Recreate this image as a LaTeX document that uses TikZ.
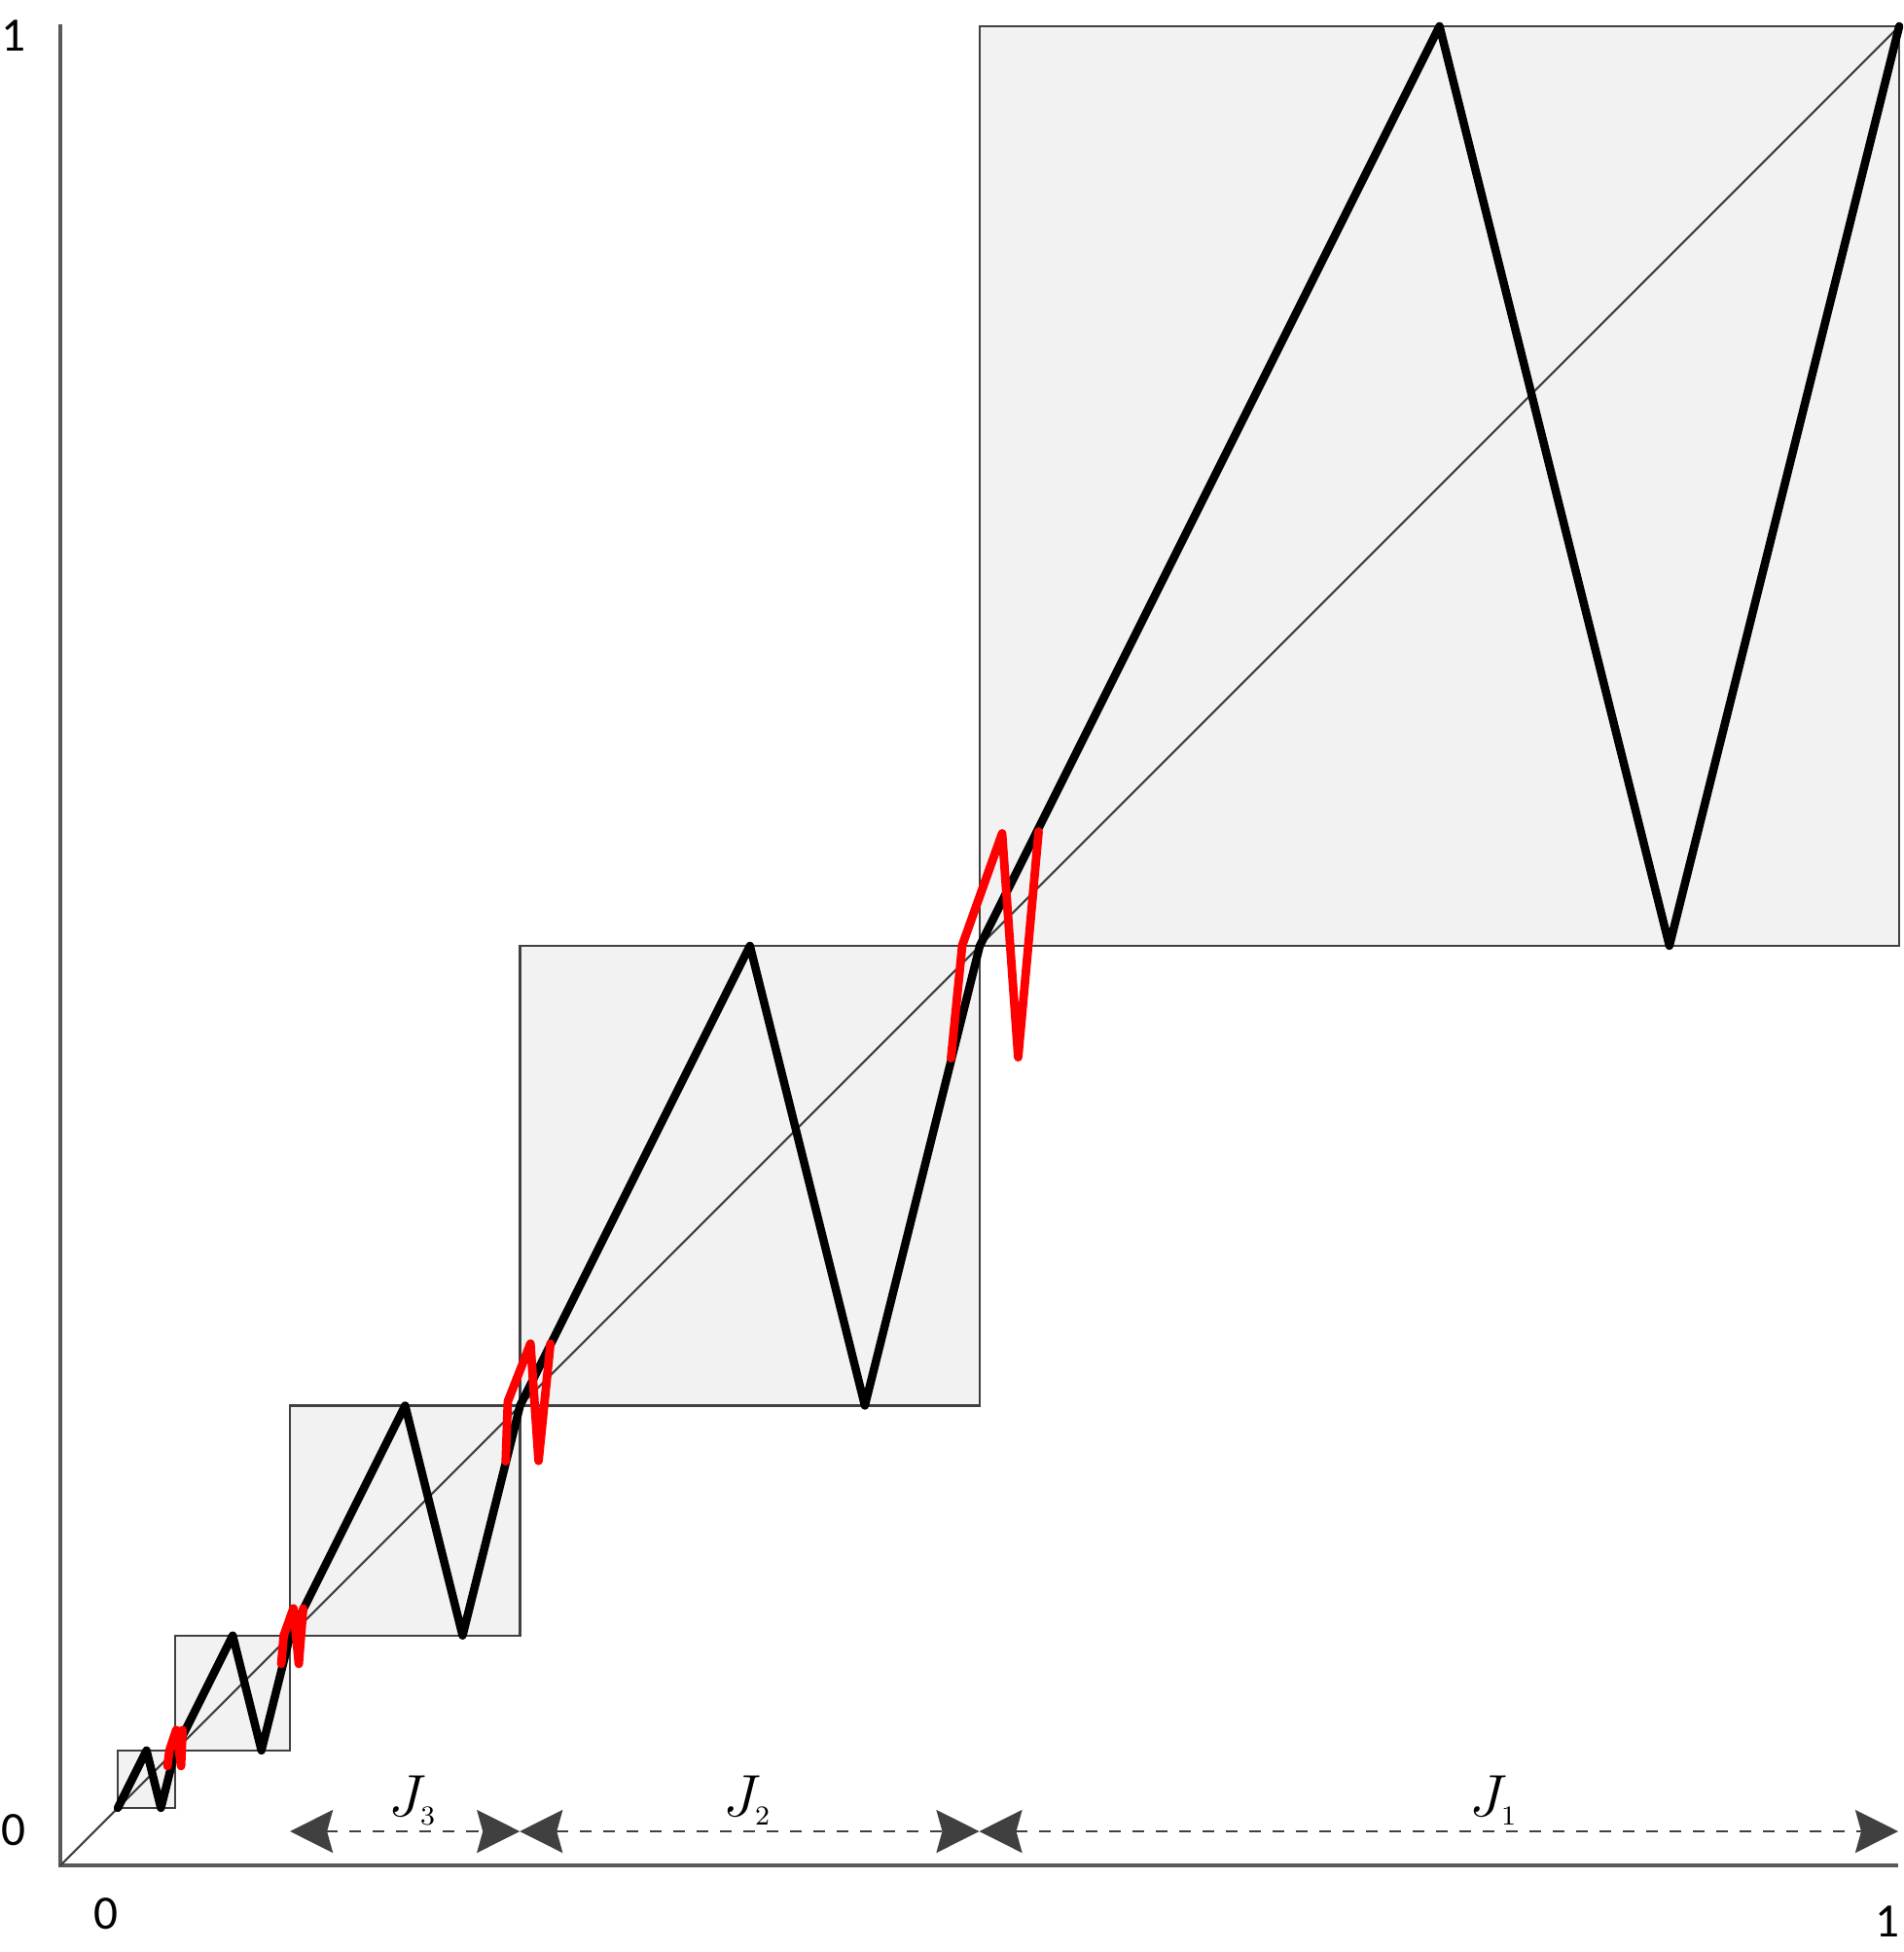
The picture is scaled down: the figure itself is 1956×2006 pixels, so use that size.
\documentclass[tikz,border=0pt]{standalone}
\usepackage{fontspec}
\setmainfont{Carlito}
\usetikzlibrary{arrows.meta}
\definecolor{boxfill}{HTML}{F2F2F2}
\definecolor{linegray}{HTML}{595959}
\definecolor{arrowgray}{HTML}{404040}
\tikzset{
  axisline/.style={draw=linegray, line width=0.9pt},
  boxsq/.style={fill=boxfill, draw=arrowgray, line width=0.6pt},
  diag/.style={draw=arrowgray, line width=0.6pt},
  mapline/.style={draw=black, line width=2.4pt, line join=round, line cap=round},
  redpert/.style={draw=red, line width=2.5pt, line join=round, line cap=round},
  ticklabel/.style={font=\fontsize{14pt}{16pt}\selectfont, inner sep=0pt},
  jlabel/.style={font=\fontsize{17pt}{20pt}\selectfont, inner sep=0pt},
  interval/.style={draw=arrowgray, line width=0.75pt, dash pattern=on 0.12cm off 0.12cm,
    {Stealth[length=0.44cm,width=0.44cm,inset=0.06cm]}-{Stealth[length=0.44cm,width=0.44cm,inset=0.06cm]}}
}
\begin{document}
\begin{tikzpicture}[x=0.01cm,y=-0.01cm]
\useasboundingbox (0,0) rectangle (1956,2006);
% coordinates of the frame
\coordinate (orig) at (62,1917);
\coordinate (ytop) at (62,25);
\coordinate (xend) at (1951,1917);
\coordinate (tr) at (1951,28);
% boxes J_k, in unit coordinates
\begin{scope}[shift={(62,1917)}, x=18.89cm, y=18.89cm]
  \path[boxsq] (1/32,1/32) rectangle (1/16,1/16);
  \path[boxsq] (1/16,1/16) rectangle (1/8,1/8);
  \path[boxsq] (1/8,1/8) rectangle (1/4,1/4);
  \path[boxsq] (1/4,1/4) rectangle (1/2,1/2);
  \path[boxsq] (1/2,1/2) rectangle (1,1);
\end{scope}
% axes and diagonal
\draw[axisline] (ytop) -- (orig) -- (xend);
\draw[diag] (orig) -- (tr);
% the map
\begin{scope}[shift={(62,1917)}, x=18.89cm, y=18.89cm]
  \draw[mapline] (0.03125,0.03125) -- (0.046875,0.0625) -- (0.0546875,0.03125) -- (0.0625,0.0625)
    -- (0.09375,0.125) -- (0.109375,0.0625) -- (0.125,0.125)
    -- (0.1875,0.25) -- (0.21875,0.125) -- (0.25,0.25)
    -- (0.375,0.5) -- (0.4375,0.25) -- (0.5,0.5)
    -- (0.75,1) -- (0.875,0.5) -- (1,1);
\end{scope}
% red perturbations near the corners
\draw[redpert, shift={(1006.5,972.5)}] (-29,115) -- (-17.5,-1) -- (23.5,-116) -- (40,114) -- (61,-118);
\draw[redpert, shift={(534.25,1444.75)}] (-14.5,57) -- (-12.3,-4.5) -- (11,-64) -- (19.3,56.5) -- (31.5,-64);
\draw[redpert, shift={(298.1,1680.9)}] (-9,29) -- (-6.5,0) -- (3.5,-28) -- (9,29) -- (13.5,-28);
\draw[redpert, shift={(180.1,1798.9)}] (-8,16) -- (-6,0) -- (1,-21) -- (6,16) -- (7.5,-21);
% tick labels
\node[ticklabel] (y1) at (14,37) {1};
\node[ticklabel] (y0) at (14,1881) {0};
\node[ticklabel] (x0) at (109,1967) {0};
\node[ticklabel] (x1) at (1940,1975) {1};
% intervals
\coordinate (p3) at (298.1,1882);
\coordinate (p2) at (534.25,1882);
\coordinate (p1) at (1006.5,1882);
\coordinate (p0) at (1951,1882);
\draw[interval] (p3) -- (p2);
\draw[interval] (p2) -- (p1);
\draw[interval] (p1) -- (p0);
\node[jlabel] (lj3) at (424,1850) {$J_{\scriptscriptstyle 3}$};
\node[jlabel] (lj2) at (768,1850) {$J_{\scriptscriptstyle 2}$};
\node[jlabel] (lj1) at (1535,1850) {$J_{\scriptscriptstyle 1}$};
\end{tikzpicture}
\end{document}
